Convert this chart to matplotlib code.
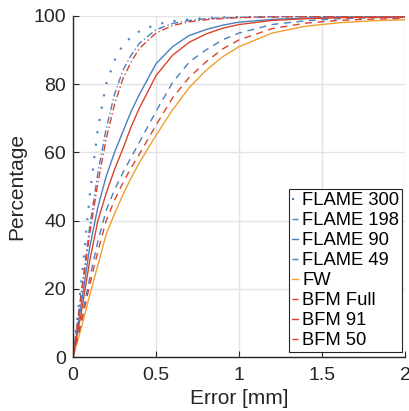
import matplotlib
matplotlib.use("Agg")
import matplotlib.pyplot as plt
import numpy as np

plt.rcParams['font.family'] = ['Liberation Sans', 'DejaVu Sans']

err = [0, 0.05, 0.1, 0.15, 0.2, 0.25, 0.3, 0.35, 0.4, 0.5, 0.6, 0.7, 0.8, 0.9, 1.0, 1.2, 1.4, 1.6, 1.8, 2.0]

flame300 = [0, 22, 47, 67, 80, 87, 91.5, 93.8, 95.5, 97.5, 98.5, 99.0, 99.4, 99.6, 99.7, 99.85, 99.9, 99.95, 100, 100]
flame198 = [0, 19, 38, 54, 67, 77, 84, 88.5, 92, 96, 97.8, 98.7, 99.2, 99.45, 99.6, 99.8, 99.9, 99.95, 100, 100]
flame90 = [0, 15.5, 32, 44, 53, 60, 66, 72, 77, 86, 91, 94.3, 96, 97.3, 98.2, 99.0, 99.4, 99.6, 99.7, 99.8]
flame49 = [0, 11, 23, 34, 43, 49, 54, 58.5, 63, 72, 80.5, 86.5, 90, 93, 95, 97.5, 98.6, 99.2, 99.5, 99.6]
fw = [0, 8.5, 18, 27, 36, 42, 47.5, 52.5, 57, 65, 72.5, 79, 84, 88, 91, 95, 97, 98, 98.6, 98.9]
bfm_full = [0, 18, 36, 51, 64, 74, 81.5, 86.5, 90.5, 95, 97.2, 98.3, 98.9, 99.25, 99.5, 99.7, 99.8, 99.9, 99.95, 100]
bfm91 = [0, 13, 28, 40, 48, 55, 61, 67.5, 73, 82.5, 88.5, 92.3, 94.7, 96.4, 97.5, 98.7, 99.2, 99.5, 99.6, 99.7]
bfm50 = [0, 10, 21, 31, 40, 46, 51, 55.5, 59.5, 68, 76, 82, 86.5, 90.3, 93, 96.3, 97.9, 98.7, 99.1, 99.3]

labels = ['FLAME 300', 'FLAME 198', 'FLAME 90', 'FLAME 49', 'FW', 'BFM Full', 'BFM 91', 'BFM 50']

BLUE = '#4a7fc0'
RED = '#d8432e'
ORANGE = '#f0a030'
TXT = '#262626'

fig = plt.figure(figsize=(4.09, 4.11), dpi=100)
ax = fig.add_axes([73/409, 1-357/411, 332/409, 341/411])

lw = 1.0
ax.plot(err, flame300, color=BLUE, lw=1.5, linestyle=(0, (1, 5)), label=labels[0])
ax.plot(err, flame198, color=BLUE, lw=lw, linestyle=(0, (5, 2, 1, 2)), label=labels[1])
ax.plot(err, flame90, color=BLUE, lw=lw, linestyle='-', label=labels[2])
ax.plot(err, flame49, color=BLUE, lw=lw, linestyle=(0, (5, 4)), label=labels[3])
ax.plot(err, fw, color=ORANGE, lw=lw, linestyle='-', label=labels[4])
ax.plot(err, bfm_full, color=RED, lw=lw, linestyle=(0, (5, 2, 1, 2)), label=labels[5])
ax.plot(err, bfm91, color=RED, lw=lw, linestyle='-', label=labels[6])
ax.plot(err, bfm50, color=RED, lw=lw, linestyle=(0, (5, 4)), label=labels[7])

ax.set_xlim(0, 2)
ax.set_ylim(0, 100)
ax.set_xticks([0, 0.5, 1, 1.5, 2])
ax.set_xticklabels(['0', '0.5', '1', '1.5', '2'])
ax.set_yticks([0, 20, 40, 60, 80, 100])
ax.grid(True, color='#e3e3e3', lw=1.0)
ax.set_axisbelow(True)
for s in ['top', 'right']:
    ax.spines[s].set_visible(False)
for s in ['left', 'bottom']:
    ax.spines[s].set_color(TXT)
    ax.spines[s].set_linewidth(1.0)
ax.tick_params(direction='in', length=4, colors=TXT, labelsize=14)
ax.tick_params(axis='x', pad=7)
ax.tick_params(axis='y', pad=5)
ax.set_xlabel('Error [mm]', fontsize=15, color=TXT, labelpad=4)
ax.set_ylabel('Percentage', fontsize=15, color=TXT, labelpad=5)

leg = ax.legend(loc='lower right', bbox_to_anchor=(402/409, 1-352/411), bbox_transform=fig.transFigure,
                fontsize=13.2, handlelength=0.3, handletextpad=0.25, labelspacing=0.165,
                borderpad=0.15, borderaxespad=0, fancybox=False, framealpha=1,
                edgecolor=TXT)
leg.get_frame().set_linewidth(0.8)
for t in leg.get_texts():
    t.set_color('#000000')

fig.savefig('out.png', dpi=100)
